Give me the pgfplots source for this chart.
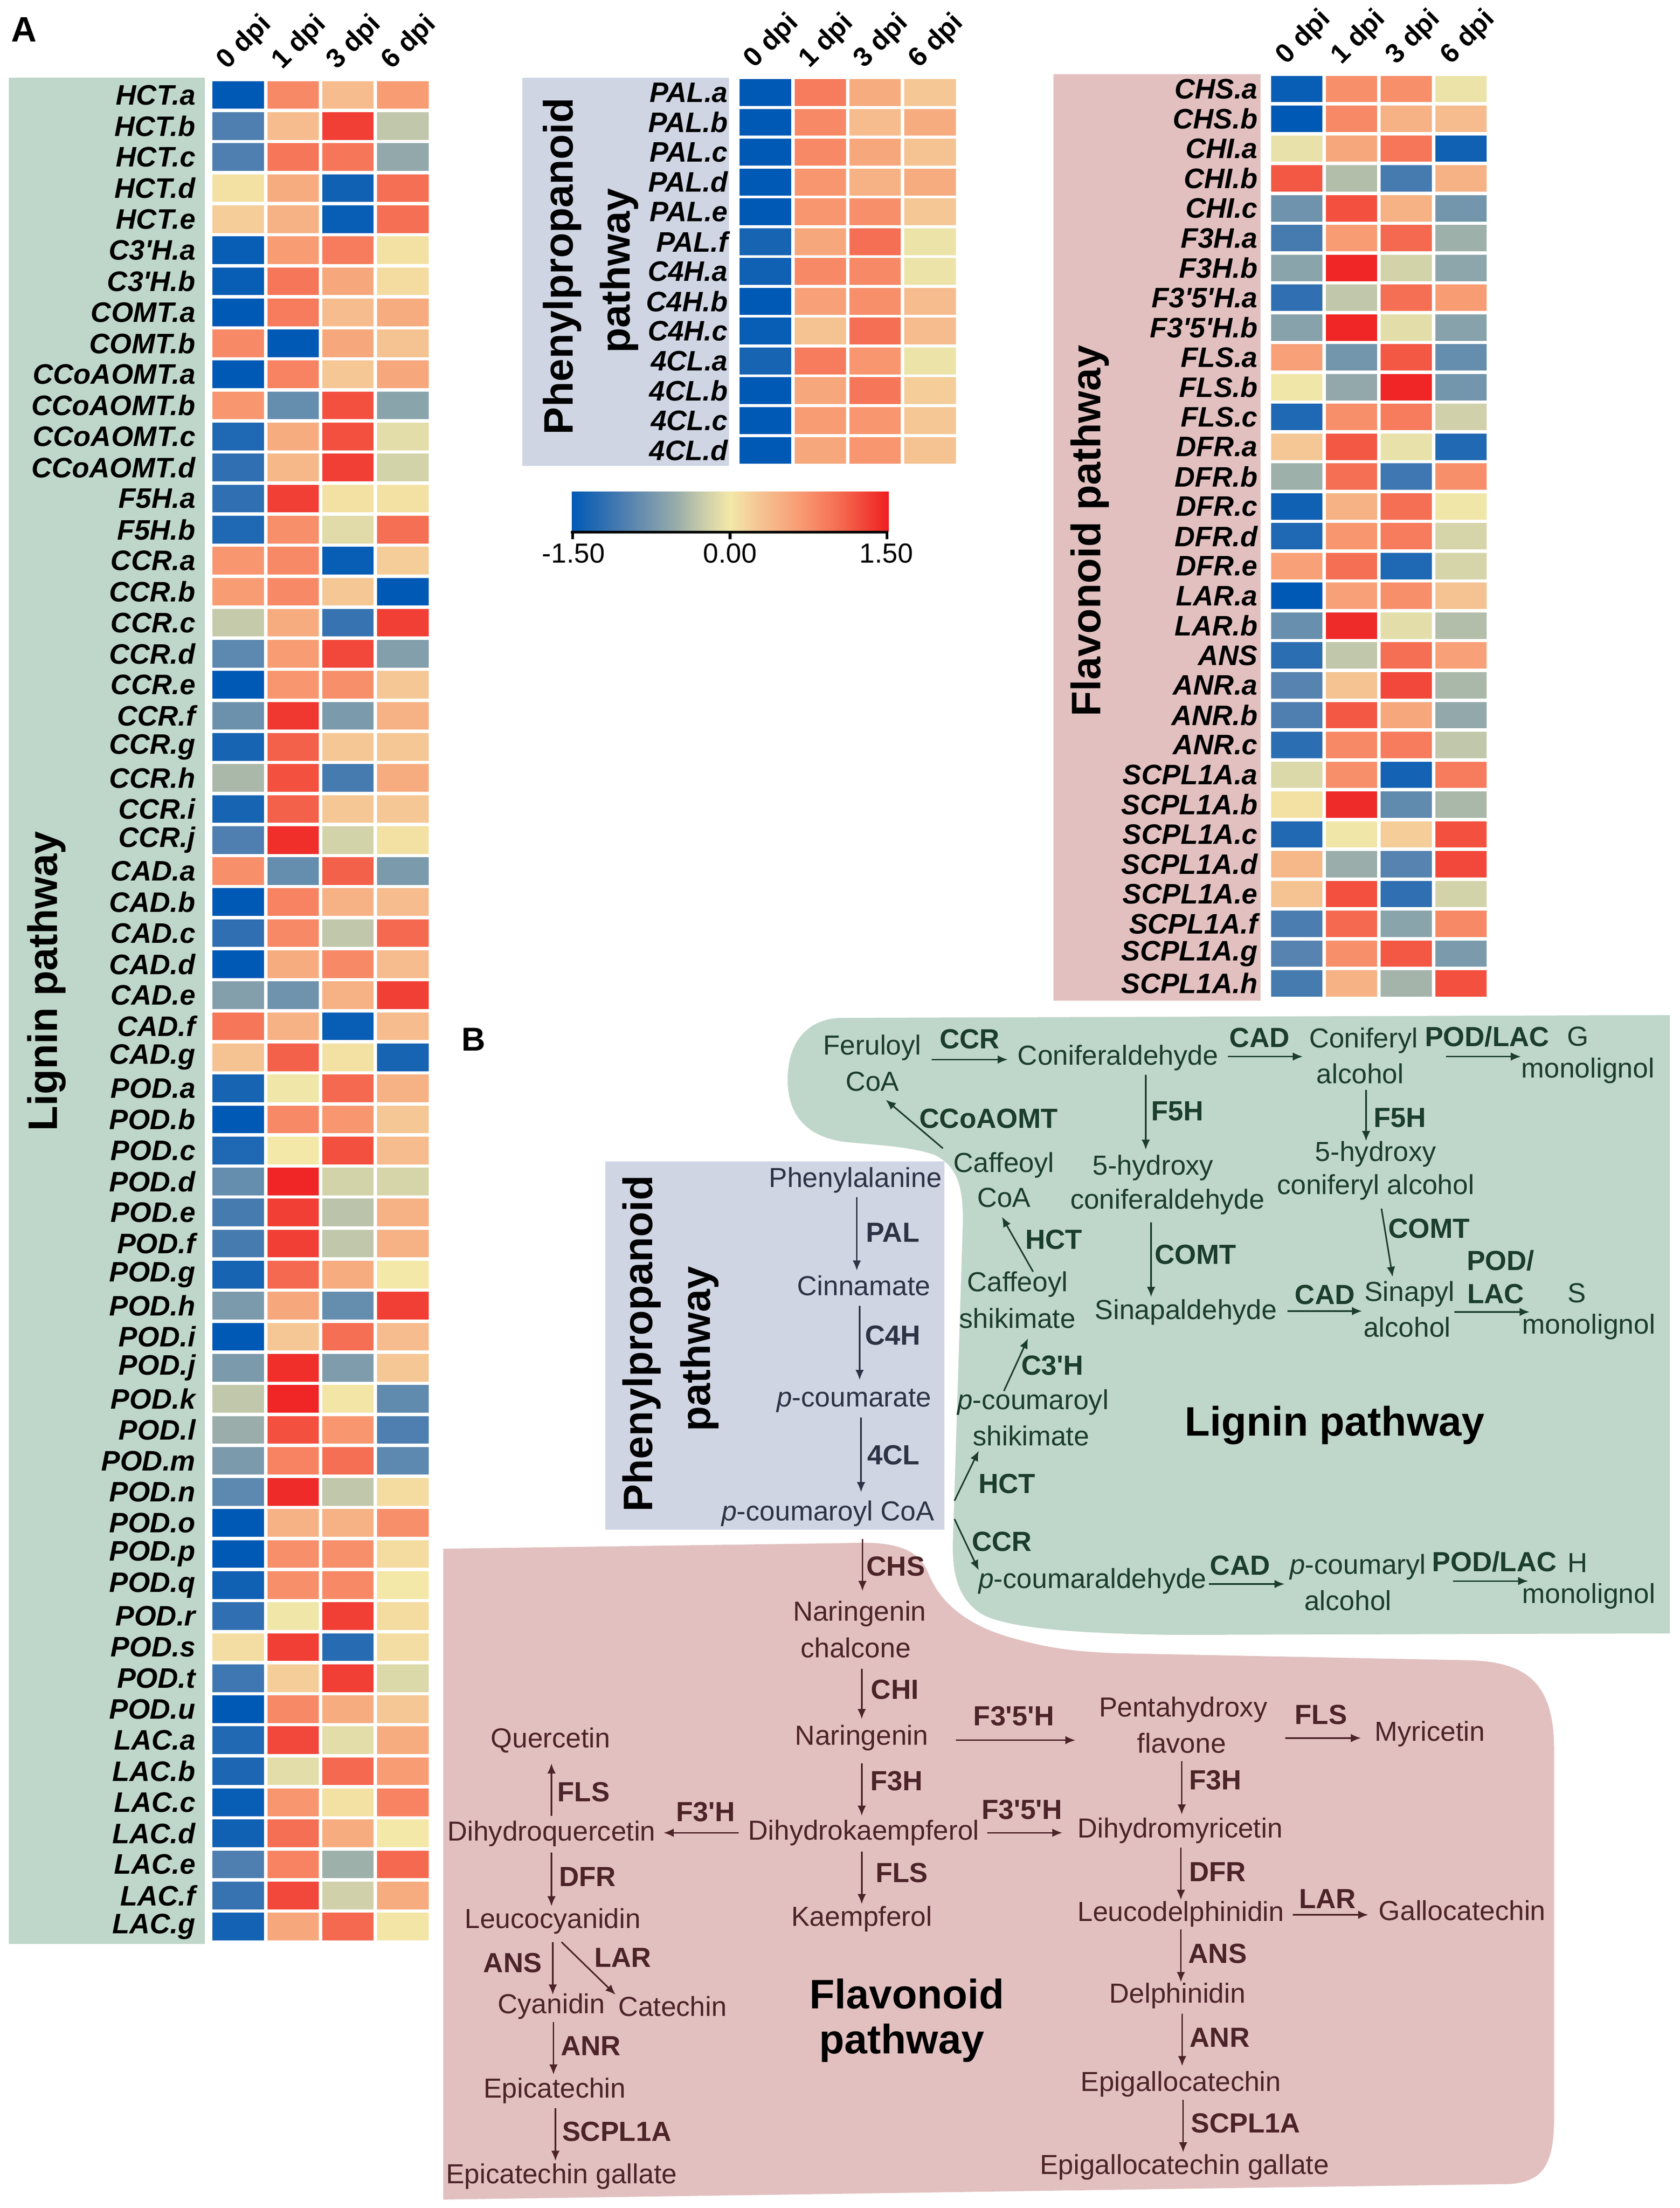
\documentclass[border=0pt]{standalone}
\usepackage{pgfplots}
\pgfplotsset{compat=1.18}
\usepackage{pgfplotstable}
\usepackage{fontspec}
\setmainfont{Liberation Sans}[Ligatures=TeXOff]
\usetikzlibrary{arrows.meta}

\definecolor{bggreen}{RGB}{191,214,202}
\definecolor{bgblue}{RGB}{208,213,228}
\definecolor{bgpink}{RGB}{226,192,192}
\definecolor{tgreen}{RGB}{27,61,43}
\definecolor{tpink}{RGB}{75,35,40}
\definecolor{tblue}{RGB}{45,50,68}

\pgfplotsset{colormap={heat}{rgb255(0cm)=(0,89,181) rgb255(16cm)=(75,125,176) rgb255(33cm)=(152,172,170) rgb255(42cm)=(205,207,170) rgb255(50cm)=(243,232,168) rgb255(58cm)=(245,200,150) rgb255(72cm)=(248,155,115) rgb255(85cm)=(245,105,80) rgb255(100cm)=(238,30,32)}}

% colour bar: the same colormap as a horizontal shading
\pgfplotscolormaptoshadingspec{heat}{112.35pt}\cbspec%
\def\tempb{\pgfdeclarehorizontalshading{cbshade}{14pt}}%
\expandafter\tempb\expandafter{\cbspec}%

% one cell of each heat map (fixed size in pt)
\pgfdeclareplotmark{cellL}{\pgfpathrectangle{\pgfpoint{-9.1pt}{-4.9pt}}{\pgfpoint{18.2pt}{9.8pt}}\pgfusepathqfill}
\pgfdeclareplotmark{cellP}{\pgfpathrectangle{\pgfpoint{-9.1pt}{-4.75pt}}{\pgfpoint{18.2pt}{9.5pt}}\pgfusepathqfill}
\pgfdeclareplotmark{cellF}{\pgfpathrectangle{\pgfpoint{-9.07pt}{-4.67pt}}{\pgfpoint{18.15pt}{9.35pt}}\pgfusepathqfill}

\pgfplotsset{
  heat map/.style={scale only axis, clip=false, xmin=-0.5, xmax=3.5, y dir=reverse,
    axis line style={draw=none}, major tick length=0pt, minor tick length=0pt, xtick=\empty,
    yticklabel style={font=\bfseries\itshape\fontsize{10}{11}\selectfont, anchor=east, inner sep=0pt},
    colormap name=heat, point meta min=-1.5, point meta max=1.5},
  cells/.style={scatter, only marks, mark=#1, point meta=explicit,
    scatter/use mapped color={fill=mapped color, draw=none}},
}

\tikzset{
  txt/.style={inner sep=0pt, font=\fontsize{9.75}{11}\selectfont},
  enz/.style={inner sep=0pt, font=\bfseries\fontsize{9.8}{11}\selectfont},
  ttl/.style={inner sep=0pt, text=black, font=\bfseries\fontsize{14.6}{17}\selectfont},
  hdr/.style={inner sep=0pt, rotate=45, anchor=base west, font=\bfseries\fontsize{9.6}{10}\selectfont},
  arr/.style={line width=0.55pt, -{Latex[length=3.6pt,width=3pt]}},
}

% z-scores, 0 dpi / 1 dpi / 3 dpi / 6 dpi
\pgfplotstableread{
gene d0 d1 d2 d3
HCT.a -1.50 0.80 0.35 0.65
HCT.b -1.00 0.35 1.30 -0.30
HCT.c -1.00 0.95 0.95 -0.55
HCT.d 0.05 0.50 -1.40 1.00
HCT.e 0.20 0.45 -1.45 1.00
C3'H.a -1.45 0.65 0.90 0.05
C3'H.b -1.45 0.95 0.55 0.10
COMT.a -1.50 0.90 0.35 0.50
COMT.b 0.80 -1.50 0.55 0.30
CCoAOMT.a -1.50 0.85 0.25 0.55
CCoAOMT.b 0.70 -0.85 1.20 -0.60
CCoAOMT.c -1.30 0.50 1.20 -0.10
CCoAOMT.d -1.20 0.40 1.30 -0.20
F5H.a -1.20 1.30 0.05 0.05
F5H.b -1.30 0.75 -0.12 1.00
CCR.a 0.70 0.80 -1.45 0.20
CCR.b 0.65 0.80 0.25 -1.50
CCR.c -0.28 0.50 -1.15 1.30
CCR.d -0.90 0.65 1.25 -0.65
CCR.e -1.50 0.70 0.75 0.25
CCR.f -0.80 1.35 -0.70 0.45
CCR.g -1.35 1.10 0.25 0.25
CCR.h -0.42 1.20 -1.05 0.50
CCR.i -1.35 1.10 0.25 0.25
CCR.j -1.00 1.40 -0.20 0.05
CAD.a 0.75 -0.85 1.10 -0.70
CAD.b -1.50 0.85 0.45 0.35
CAD.c -1.20 0.80 -0.30 1.05
CAD.d -1.50 0.50 0.80 0.35
CAD.e -0.65 -0.78 0.45 1.30
CAD.f 0.95 0.45 -1.45 0.35
CAD.g 0.30 1.10 0.05 -1.35
POD.a -1.35 -0.02 1.05 0.45
POD.b -1.50 0.80 0.70 0.25
POD.c -1.30 0.00 1.20 0.35
POD.d -0.85 1.45 -0.20 -0.18
POD.e -1.05 1.30 -0.33 0.45
POD.f -1.05 1.30 -0.30 0.45
POD.g -1.35 1.05 0.50 0.00
POD.h -0.70 0.55 -0.85 1.30
POD.i -1.50 0.25 1.00 0.35
POD.j -0.70 1.40 -0.68 0.25
POD.k -0.30 1.45 0.02 -0.88
POD.l -0.50 1.20 0.70 -1.00
POD.m -0.70 0.85 1.00 -0.90
POD.n -0.90 1.42 -0.30 0.10
POD.o -1.50 0.45 0.45 0.75
POD.p -1.50 0.75 0.75 0.10
POD.q -1.40 0.75 0.80 0.00
POD.r -1.20 -0.02 1.30 0.10
POD.s 0.08 1.30 -1.25 0.08
POD.t -1.10 0.20 1.30 -0.15
POD.u -1.50 0.80 0.50 0.25
LAC.a -1.28 1.25 -0.10 0.50
LAC.b -1.32 -0.10 1.05 0.65
LAC.c -1.45 0.70 0.05 0.85
LAC.d -1.40 1.00 0.50 0.00
LAC.e -1.00 0.85 -0.48 1.05
LAC.f -1.15 1.25 -0.22 0.50
LAC.g -1.38 0.55 1.05 0.02
}\lignin

\pgfplotstableread{
gene d0 d1 d2 d3
PAL.a -1.50 0.90 0.50 0.25
PAL.b -1.50 0.80 0.35 0.50
PAL.c -1.50 0.80 0.55 0.30
PAL.d -1.50 0.70 0.45 0.50
PAL.e -1.50 0.70 0.75 0.25
PAL.f -1.35 0.55 1.00 -0.05
C4H.a -1.40 0.80 0.80 -0.05
C4H.b -1.50 0.60 0.75 0.35
C4H.c -1.45 0.30 1.00 0.35
4CL.a -1.35 0.90 0.70 -0.05
4CL.b -1.50 0.55 0.95 0.20
4CL.c -1.50 0.65 0.70 0.25
4CL.d -1.50 0.55 0.70 0.30
}\phenyl

\pgfplotstableread{
gene d0 d1 d2 d3
CHS.a -1.45 0.75 0.75 -0.05
CHS.b -1.50 0.80 0.45 0.35
CHI.a -0.07 0.55 0.95 -1.40
CHI.b 1.15 -0.38 -1.05 0.45
CHI.c -0.78 1.20 0.45 -0.75
F3H.a -1.05 0.65 1.05 -0.48
F3H.b -0.60 1.45 -0.20 -0.58
F3'5'H.a -1.20 -0.30 1.00 0.65
F3'5'H.b -0.62 1.45 -0.10 -0.62
FLS.a 0.60 -0.75 1.15 -0.85
FLS.b -0.02 -0.55 1.45 -0.75
FLS.c -1.30 0.75 0.90 -0.22
DFR.a 0.25 1.15 -0.07 -1.28
DFR.b -0.48 1.00 -1.10 0.75
DFR.c -1.40 0.45 1.00 -0.02
DFR.d -1.30 0.70 0.90 -0.18
DFR.e 0.60 1.00 -1.30 -0.18
LAR.a -1.50 0.60 0.75 0.30
LAR.b -0.82 1.42 -0.10 -0.38
ANS -1.22 -0.30 1.00 0.60
ANR.a -0.95 0.30 1.25 -0.42
ANR.b -1.00 1.15 0.55 -0.55
ANR.c -1.22 0.80 0.90 -0.30
SCPL1A.a -0.15 0.75 -1.38 0.90
SCPL1A.b 0.05 1.42 -0.88 -0.42
SCPL1A.c -1.28 -0.02 0.20 1.20
SCPL1A.d 0.40 -0.50 -0.95 1.25
SCPL1A.e 0.30 1.20 -1.20 -0.20
SCPL1A.f -1.02 1.05 -0.60 0.80
SCPL1A.g -0.95 0.75 1.15 -0.70
SCPL1A.h -1.05 0.45 -0.45 1.20
}\flavonoid

\begin{document}
\begin{tikzpicture}

% canvas: 1 unit = 0.5pt, y downwards
\begin{axis}[name=canvas, at={(0,0)}, anchor=south west, scale only axis,
  width=595pt, height=782pt, xmin=0, xmax=1190, ymin=0, ymax=1564,
  y dir=reverse, hide axis, clip=false]

% ---- panel A backgrounds and titles
\fill[bggreen] (6.2,54.9) rectangle (145,1377);
\fill[bgblue] (369.9,55) rectangle (516.5,330);
\fill[bgpink] (746.4,52.5) rectangle (893,708.7);

\node[inner sep=0pt, font=\bfseries\fontsize{12.5}{14}\selectfont] at (17,21) {A};
\node[ttl, rotate=90] at (33,695) {Lignin pathway};
\node[ttl, rotate=90] at (398.4,188.6) {Phenylpropanoid};
\node[ttl, rotate=90] at (438.5,191.8) {pathway};
\node[ttl, rotate=90] at (772,376) {Flavonoid pathway};

\node[hdr] at (160.75,50) {0 dpi};
\node[hdr] at (199.65,50) {1 dpi};
\node[hdr] at (238.55,50) {3 dpi};
\node[hdr] at (277.45,50) {6 dpi};
\node[hdr] at (534.25,49) {0 dpi};
\node[hdr] at (573.15,49) {1 dpi};
\node[hdr] at (612.05,49) {3 dpi};
\node[hdr] at (650.95,49) {6 dpi};
\node[hdr] at (911.2,46.3) {0 dpi};
\node[hdr] at (950,46.3) {1 dpi};
\node[hdr] at (988.8,46.3) {3 dpi};
\node[hdr] at (1027.6,46.3) {6 dpi};

% colour bar, its axis line, ticks and numbers
\node[inner sep=0pt, anchor=north west] at (404.6,348) {\pgfuseshading{cbshade}};
\draw[line width=1pt] (404.6,377) -- (629.3,377);
\draw[line width=1pt] (405.7,376) -- (405.7,382);
\draw[line width=1pt] (517.2,376) -- (517.2,382);
\draw[line width=1pt] (628.5,376) -- (628.5,382);
\node[txt] at (406.3,391.8) {-1.50};
\node[txt] at (517.2,391.8) {0.00};
\node[txt] at (627.8,391.8) {1.50};

% ---- panel B backgrounds
\node[inner sep=0pt, font=\bfseries\fontsize{11.7}{14}\selectfont] at (335.4,736.3) {B};

\fill[bgpink] (314,1097) -- (600,1093) .. controls (640,1091) and (652,1100) .. (658,1115)
  .. controls (666,1135) and (685,1152) .. (720,1161)
  .. controls (745,1168) and (765,1170) .. (790,1171) -- (1040,1176)
  .. controls (1085,1177) and (1101,1195) .. (1101,1240) -- (1101,1500)
  .. controls (1101,1535) and (1092,1545) .. (1070,1547) -- (314,1558) -- cycle;

\fill[bggreen] (595,721) -- (1183,719) -- (1183,1157) -- (830,1158)
  .. controls (760,1157) and (712,1153) .. (695,1143)
  .. controls (680,1133) and (675,1118) .. (675,1095)
  -- (682,870) .. controls (683,840) and (678,826) .. (662,818)
  .. controls (645,812) and (620,811) .. (600,809)
  .. controls (572,806) and (558,790) .. (558,765)
  .. controls (558,738) and (572,722) .. (595,721) -- cycle;

\fill[bgblue] (429,822.7) rectangle (669.2,1083.5);

% ---- phenylpropanoid pathway
\node[ttl, rotate=90] at (454.5,951.7) {Phenylpropanoid};
\node[ttl, rotate=90] at (495.7,955.5) {pathway};
\begin{scope}[color=tblue]
\node[txt] at (606,836) {Phenylalanine};
\draw[arr] (607,848) -- (607,900);
\node[enz] at (632.5,873) {PAL};
\node[txt] at (612,910.5) {Cinnamate};
\draw[arr] (609,925) -- (609,977.5);
\node[enz] at (632.5,945.8) {C4H};
\node[txt] at (605,992) {\textit{p}-coumarate};
\draw[arr] (610,1004) -- (610,1057);
\node[enz] at (633,1030.6) {4CL};
\node[txt] at (586.5,1072) {\textit{p}-coumaroyl CoA};
\end{scope}

% ---- lignin pathway
\node[ttl] at (945.5,1009.5) {Lignin pathway};
\begin{scope}[color=tgreen]
\node[txt] at (618,742) {Feruloyl};
\node[txt] at (618,766) {CoA};
\draw[arr] (660,750.5) -- (714,750.5);
\node[enz] at (687,736) {CCR};
\node[txt] at (792,749.3) {Coniferaldehyde};
\draw[arr] (870,748.4) -- (923,748.4);
\node[enz] at (892.3,735.1) {CAD};
\node[txt] at (966,737.2) {Coniferyl};
\node[txt] at (963.6,760.5) {alcohol};
\draw[arr] (1024.4,748.4) -- (1077.5,748.4);
\node[enz] at (1053.5,734.2) {POD/LAC};
\node[txt] at (1117.7,734.2) {G};
\node[txt] at (1124.9,758.4) {monolignol};

\node[enz] at (700.4,792.2) {CCoAOMT};
\draw[arr] (668,813.4) -- (627.5,779);
\node[txt] at (711.2,825.3) {Caffeoyl};
\node[txt] at (711.2,848.4) {CoA};

\draw[arr] (811.7,761.4) -- (811.7,814.4);
\node[enz] at (834,787.1) {F5H};
\node[txt] at (816.8,827) {5-hydroxy};
\node[txt] at (827.1,851.3) {coniferaldehyde};
\draw[arr] (967.8,772) -- (967.8,808.3);
\node[enz] at (991.8,791.7) {F5H};
\node[txt] at (974.6,817.4) {5-hydroxy};
\node[txt] at (974.6,841) {coniferyl alcohol};

\draw[arr] (731.9,900.8) -- (709.8,861.9);
\node[enz] at (746.5,877.9) {HCT};
\node[txt] at (720.8,909.6) {Caffeoyl};
\node[txt] at (720.8,933.8) {shikimate};

\draw[arr] (815.5,865.8) -- (815.5,918.7);
\node[enz] at (847,888.5) {COMT};
\node[txt] at (840.2,929.3) {Sinapaldehyde};
\draw[arr] (978.7,856.1) -- (986.6,904.5);
\node[enz] at (1012.4,870.3) {COMT};
\draw[arr] (912.2,928.7) -- (965,928.7);
\node[enz] at (938.6,917.2) {CAD};
\node[txt] at (998.6,916.6) {Sinapyl};
\node[txt] at (996.9,939.9) {alcohol};
\node[enz] at (1063.1,893) {POD/};
\node[enz] at (1059.7,916.6) {LAC};
\draw[arr] (1030.2,929.3) -- (1083.7,929.3);
\node[txt] at (1117,916) {S};
\node[txt] at (1125.5,939.9) {monolignol};

\draw[arr] (711.2,985.3) -- (728.3,948);
\node[enz] at (745.5,967) {C3'H};
\node[txt] at (731.8,993.4) {\textit{p}-coumaroyl};
\node[txt] at (730.4,1017) {shikimate};

\draw[arr] (676.2,1063) -- (693.4,1027.6);
\node[enz] at (713.3,1050.9) {HCT};
\draw[arr] (676.2,1076) -- (693.4,1112.3);
\node[enz] at (709.8,1092) {CCR};
\node[txt] at (774,1119.9) {\textit{p}-coumaraldehyde};
\draw[arr] (856.3,1122) -- (910.1,1122);
\node[enz] at (878.6,1108.7) {CAD};
\node[txt] at (962,1110) {\textit{p}-coumaryl};
\node[txt] at (955,1133.5) {alcohol};
\node[enz] at (1058.7,1106.3) {POD/LAC};
\draw[arr] (1029.5,1119.9) -- (1082.7,1119.9);
\node[txt] at (1117.7,1107) {H};
\node[txt] at (1125.5,1130.5) {monolignol};
\end{scope}

% ---- flavonoid pathway
\node[ttl] at (642.6,1412.3) {Flavonoid};
\node[ttl] at (638.9,1447.2) {pathway};
\begin{scope}[color=tpink]
\draw[arr] (611,1090) -- (611,1127);
\node[enz] at (634.6,1109.5) {CHS};
\node[txt] at (609,1143.2) {Naringenin};
\node[txt] at (606.2,1167) {chalcone};
\draw[arr] (610.5,1182) -- (610.5,1217.7);
\node[enz] at (634,1196.8) {CHI};
\node[txt] at (610.5,1231.1) {Naringenin};
\draw[arr] (677.2,1232.6) -- (761.9,1232.6);
\node[enz] at (718.3,1215.6) {F3'5'H};
\node[txt] at (838.2,1211.1) {Pentahydroxy};
\node[txt] at (837.2,1234.7) {flavone};
\draw[arr] (910.5,1231.1) -- (964.2,1231.1);
\node[enz] at (935.8,1214.7) {FLS};
\node[txt] at (1013,1228.1) {Myricetin};

\draw[arr] (610.5,1249) -- (610.5,1286.2);
\node[enz] at (635.2,1261.5) {F3H};
\node[txt] at (611.9,1298.2) {Dihydrokaempferol};
\draw[arr] (523.4,1298.2) -- (470.1,1298.2);
\node[enz] at (499.9,1283.3) {F3'H};
\node[txt] at (390.7,1298.7) {Dihydroquercetin};
\draw[arr] (390.7,1286.2) -- (390.7,1249);
\node[enz] at (413.4,1269.2) {FLS};
\node[txt] at (390.1,1232.6) {Quercetin};
\draw[arr] (699.3,1298.2) -- (752.7,1298.2);
\node[enz] at (724,1281.8) {F3'5'H};
\draw[arr] (837.2,1247.5) -- (837.2,1285.3);
\node[enz] at (861,1260.9) {F3H};
\node[txt] at (836,1296.7) {Dihydromyricetin};

\draw[arr] (390.7,1312.2) -- (390.7,1350.3);
\node[enz] at (416.2,1329.4) {DFR};
\node[txt] at (391.6,1360.7) {Leucocyanidin};
\draw[arr] (610.5,1311.6) -- (610.5,1348.8);
\node[enz] at (638.9,1326.5) {FLS};
\node[txt] at (610.5,1359.2) {Kaempferol};
\draw[arr] (836.6,1308.6) -- (836.6,1345.8);
\node[enz] at (862.6,1325.9) {DFR};
\node[txt] at (836.6,1355.7) {Leucodelphinidin};
\draw[arr] (916,1356.3) -- (969.4,1356.3);
\node[enz] at (940.4,1345) {LAR};
\node[txt] at (1035.9,1353.3) {Gallocatechin};

\draw[arr] (391.6,1375.6) -- (391.6,1412.9);
\node[enz] at (363.2,1390.5) {ANS};
\draw[arr] (397.8,1375.6) -- (436.1,1412.9);
\node[enz] at (441.2,1386.7) {LAR};
\node[txt] at (390.7,1421.2) {Cyanidin};
\node[txt] at (476.4,1421.2) {Catechin};
\draw[arr] (836.6,1366.7) -- (836.6,1404);
\node[enz] at (862.6,1383.7) {ANS};
\node[txt] at (834.2,1413.5) {Delphinidin};

\draw[arr] (392.1,1432.3) -- (392.1,1469.5);
\node[enz] at (418.5,1449.2) {ANR};
\node[txt] at (393,1480.8) {Epicatechin};
\draw[arr] (837.5,1426.3) -- (837.5,1463.5);
\node[enz] at (864.1,1443.3) {ANR};
\node[txt] at (836.6,1476.1) {Epigallocatechin};

\draw[arr] (393.5,1493.3) -- (393.5,1530.6);
\node[enz] at (436.9,1509.7) {SCPL1A};
\node[txt] at (397.8,1541.6) {Epicatechin gallate};
\draw[arr] (838.2,1487.4) -- (838.2,1524.6);
\node[enz] at (882.4,1503.8) {SCPL1A};
\node[txt] at (839.1,1535) {Epigallocatechin gallate};
\end{scope}
\end{axis}

% ---- heat map: lignin pathway
\begin{axis}[heat map, at={(74.65pt,753.85pt)}, anchor=north west,
  width=77.8pt, height=659.65pt, ymin=-0.5, ymax=59.5,
  ytick={0,...,59}, yticklabels from table={\lignin}{gene},
  yticklabel style={xshift=-5.2pt}]
\addplot[cells=cellL] table[x expr=0, y expr=\coordindex, meta=d0] {\lignin};
\addplot[cells=cellL] table[x expr=1, y expr=\coordindex, meta=d1] {\lignin};
\addplot[cells=cellL] table[x expr=2, y expr=\coordindex, meta=d2] {\lignin};
\addplot[cells=cellL] table[x expr=3, y expr=\coordindex, meta=d3] {\lignin};
\end{axis}

% ---- heat map: phenylpropanoid pathway
\begin{axis}[heat map, at={(261.4pt,754.5pt)}, anchor=north west,
  width=77.8pt, height=137.3pt, ymin=-0.5, ymax=12.5,
  ytick={0,...,12}, yticklabels from table={\phenyl}{gene},
  yticklabel style={xshift=-3.4pt}]
\addplot[cells=cellP] table[x expr=0, y expr=\coordindex, meta=d0] {\phenyl};
\addplot[cells=cellP] table[x expr=1, y expr=\coordindex, meta=d1] {\phenyl};
\addplot[cells=cellP] table[x expr=2, y expr=\coordindex, meta=d2] {\phenyl};
\addplot[cells=cellP] table[x expr=3, y expr=\coordindex, meta=d3] {\phenyl};
\end{axis}

% ---- heat map: flavonoid pathway
\begin{axis}[heat map, at={(449.65pt,755.75pt)}, anchor=north west,
  width=77.55pt, height=327.35pt, ymin=-0.5, ymax=30.5,
  ytick={0,...,30}, yticklabels from table={\flavonoid}{gene},
  yticklabel style={xshift=-3.95pt}]
\addplot[cells=cellF] table[x expr=0, y expr=\coordindex, meta=d0] {\flavonoid};
\addplot[cells=cellF] table[x expr=1, y expr=\coordindex, meta=d1] {\flavonoid};
\addplot[cells=cellF] table[x expr=2, y expr=\coordindex, meta=d2] {\flavonoid};
\addplot[cells=cellF] table[x expr=3, y expr=\coordindex, meta=d3] {\flavonoid};
\end{axis}

\pgfresetboundingbox
\path[use as bounding box] (0,0) rectangle (595pt,782pt);
\end{tikzpicture}
\end{document}
